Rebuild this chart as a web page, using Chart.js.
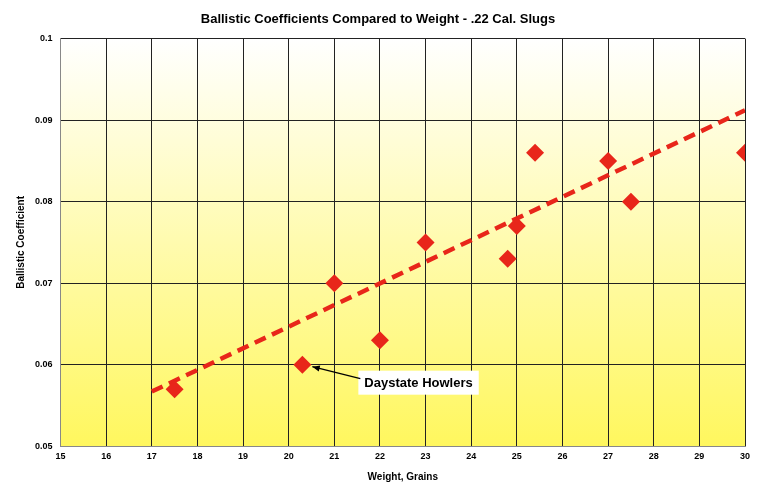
<!DOCTYPE html>
<html>
<head>
<meta charset="utf-8">
<script src="https://cdn.jsdelivr.net/npm/chart.js@4"></script>
<style>
  html, body { margin: 0; padding: 0; background: #fff; }
  #wrap { width: 780px; height: 495px; }
</style>
</head>
<body>
<div id="wrap"><canvas id="c"></canvas></div>
<script>
const weights = [17.5, 20.3, 21, 22, 23, 24.8, 25, 25.4, 27, 27.5, 30];
const coeffs = [0.057, 0.060, 0.070, 0.063, 0.075, 0.073, 0.077, 0.086, 0.085, 0.080, 0.086];
const trendX = [17, 30];
const trendY = [0.0567, 0.0912];
const noteText = 'Daystate Howlers';
const noteIndex = 1;

const FONT = '"Liberation Sans", Arial, sans-serif';
const red = '#e8261a';

// yellow gradient behind the plot
const bgPlugin = {
  id: 'bg',
  beforeDraw(chart) {
    const { ctx, chartArea: a } = chart;
    const g = ctx.createLinearGradient(0, a.top, 0, a.bottom);
    g.addColorStop(0, '#ffffff');
    g.addColorStop(1, '#fff75e');
    ctx.save();
    ctx.fillStyle = g;
    ctx.fillRect(a.left, a.top, a.right - a.left, a.bottom - a.top);
    ctx.restore();
  }
};

// label with arrow pointing at one point
const notePlugin = {
  id: 'note',
  afterDatasetsDraw(chart) {
    const { ctx, scales } = chart;
    const px = scales.x.getPixelForValue(weights[noteIndex]);
    const py = scales.y.getPixelForValue(coeffs[noteIndex]);
    ctx.save();
    ctx.font = 'bold 13px ' + FONT;
    const w = ctx.measureText(noteText).width;
    const bx = px + 56, by = py + 6;
    ctx.fillStyle = '#fff';
    ctx.fillRect(bx, by, w + 12, 24);
    ctx.fillStyle = '#000';
    ctx.textBaseline = 'middle';
    ctx.fillText(noteText, bx + 6, by + 13);
    // arrow
    const sx = bx + 2, sy = by + 8, ex = px + 10, ey = py + 2;
    ctx.strokeStyle = '#000';
    ctx.lineWidth = 1.3;
    ctx.beginPath();
    ctx.moveTo(sx, sy);
    ctx.lineTo(ex, ey);
    ctx.stroke();
    const ang = Math.atan2(ey - sy, ex - sx);
    ctx.beginPath();
    ctx.moveTo(ex, ey);
    ctx.lineTo(ex - 8 * Math.cos(ang - 0.4), ey - 8 * Math.sin(ang - 0.4));
    ctx.lineTo(ex - 8 * Math.cos(ang + 0.4), ey - 8 * Math.sin(ang + 0.4));
    ctx.closePath();
    ctx.fillStyle = '#000';
    ctx.fill();
    ctx.restore();
  }
};

new Chart(document.getElementById('c'), {
  type: 'scatter',
  data: {
    datasets: [{
      label: 'Trend',
      type: 'line',
      data: trendX.map((x, i) => ({ x: x, y: trendY[i] })),
      borderColor: red,
      borderWidth: 4.5,
      borderDash: [12, 7],
      pointRadius: 0,
      fill: false,
      order: 2
    }, {
      label: 'BC',
      data: weights.map((x, i) => ({ x: x, y: coeffs[i] })),
      pointStyle: 'rectRot',
      pointRadius: 9,
      pointHoverRadius: 9,
      backgroundColor: red,
      borderColor: red,
      borderWidth: 0,
      order: 1
    }]
  },
  options: {
    responsive: true,
    maintainAspectRatio: false,
    animation: false,
    layout: { padding: { top: 4, right: 35, bottom: 8, left: 11 } },
    plugins: {
      legend: { display: false },
      tooltip: { enabled: false },
      title: {
        display: true,
        text: 'Ballistic Coefficients Compared to Weight - .22 Cal. Slugs',
        color: '#000',
        font: { family: FONT, size: 13, weight: 'bold' },
        padding: { top: 8, bottom: 11 }
      }
    },
    scales: {
      x: {
        type: 'linear',
        min: 15, max: 30,
        ticks: { stepSize: 1, color: '#000', font: { family: FONT, size: 9, weight: 'bold' }, padding: 5 },
        grid: { color: '#222', lineWidth: 1, drawTicks: false },
        border: { color: '#888', width: 1 },
        title: { display: true, text: 'Weight, Grains', color: '#000', font: { family: FONT, size: 10, weight: 'bold' }, padding: { top: 4 } }
      },
      y: {
        min: 0.05, max: 0.1,
        ticks: { stepSize: 0.01, color: '#000', font: { family: FONT, size: 9, weight: 'bold' }, padding: 8,
          callback: v => +v.toFixed(2) + '' },
        grid: { color: '#222', lineWidth: 1, drawTicks: false },
        border: { color: '#888', width: 1 },
        title: { display: true, text: 'Ballistic Coefficient', color: '#000', font: { family: FONT, size: 10, weight: 'bold' }, padding: { bottom: 0 } }
      }
    }
  },
  plugins: [bgPlugin, notePlugin]
});
</script>
</body>
</html>
